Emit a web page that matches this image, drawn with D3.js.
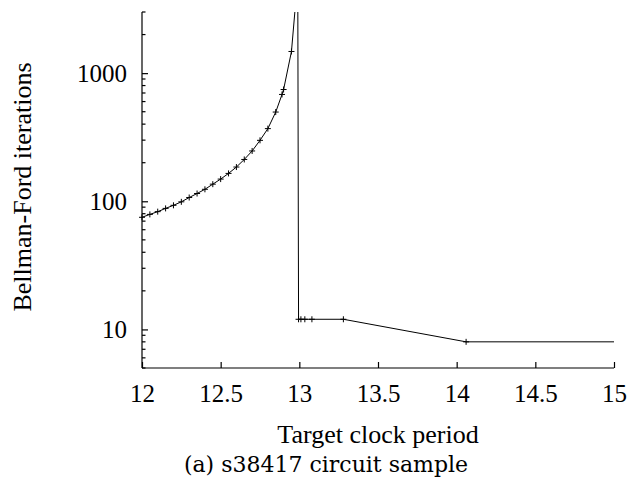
<!DOCTYPE html>
<html>
<head>
<meta charset="utf-8">
<script src="https://cdn.jsdelivr.net/npm/d3@7"></script>
<style>
  body { margin: 0; background: #fff; }
  text { font-family: "Liberation Serif", "Times New Roman", serif; fill: #000; }
</style>
</head>
<body>
<div class="chart"></div>
<script>
// Bellman-Ford iterations vs target clock period (s38417)
var periods = [12, 12.05, 12.1, 12.15, 12.2, 12.25, 12.3, 12.35, 12.4, 12.45,
               12.5, 12.55, 12.6, 12.65, 12.7, 12.75, 12.8, 12.85, 12.89, 12.9,
               12.95, 12.99, 12.995, 13.01, 13.035, 13.08, 13.28, 14.06, 15.5];
var iterations = [75, 79, 83, 88, 93, 99, 107, 115, 124, 136,
                  149, 165, 185, 212, 247, 299, 369, 497, 682, 745,
                  1476, 5500, 12, 12, 12, 12, 12, 8, 8];
var xTicks = [12, 12.5, 13, 13.5, 14, 14.5, 15];
var yMajor = [10, 100, 1000];
var yMinor = [5, 6, 7, 8, 9, 20, 30, 40, 50, 60, 70, 80, 90,
              200, 300, 400, 500, 600, 700, 800, 900, 2000, 3000];

var width = 633, height = 502;
var plotLeft = 142, plotRight = 614, plotTop = 12, plotBottom = 368;

var x = d3.scaleLinear().domain([12, 15]).range([plotLeft, plotRight]);
var y = d3.scaleLog().domain([5, 3000]).range([plotBottom, plotTop]);

function build_svg(c){
    var s = c.append("svg").attr("width", width).attr("height", height);
    s.append("rect").attr("width", width).attr("height", height).attr("fill", "#fff");
    s.append("clipPath").attr("id", "plot")
        .append("rect").attr("x", plotLeft - 6).attr("y", plotTop)
        .attr("width", plotRight - plotLeft + 6).attr("height", plotBottom - plotTop + 6);
    return s;
}

function build_axes(s){
    var xAxis = d3.axisBottom(x).tickValues(xTicks).tickSize(-6)
        .tickFormat(d3.format("~g"));
    var gx = s.append("g").attr("transform", "translate(0," + plotBottom + ")").call(xAxis);
    gx.select(".domain").attr("d", "M" + plotLeft + ",0H" + plotRight).attr("stroke-width", 1.2);
    gx.selectAll(".tick line").attr("stroke-width", 1.2);
    gx.selectAll(".tick text").attr("font-size", 25).attr("font-family", "Liberation Serif")
        .attr("y", 34).attr("dy", 0);

    var yAxis = d3.axisLeft(y).tickValues(yMajor).tickSize(-6).tickPadding(15)
        .tickFormat(d3.format("d"));
    var gy = s.append("g").attr("transform", "translate(" + plotLeft + ",0)").call(yAxis);
    gy.select(".domain").attr("d", "M0," + plotTop + "V" + plotBottom).attr("stroke-width", 1.2);
    gy.selectAll(".tick line").attr("stroke-width", 1.2);
    gy.selectAll(".tick text").attr("font-size", 25).attr("font-family", "Liberation Serif");

    gy.selectAll(".minor").data(yMinor).enter().append("line")
        .attr("class", "minor")
        .attr("x1", 0).attr("x2", 3.5)
        .attr("y1", function(d){ return y(d); })
        .attr("y2", function(d){ return y(d); })
        .attr("stroke", "#000").attr("stroke-width", 1.2);
}

function build_series(s){
    var pts = periods.map(function(p, i){ return [p, iterations[i]]; });
    var g = s.append("g").attr("clip-path", "url(#plot)");
    var line = d3.line()
        .x(function(d){ return x(d[0]); })
        .y(function(d){ return y(d[1]); });
    g.append("path").datum(pts)
        .attr("d", line)
        .attr("fill", "none").attr("stroke", "#000").attr("stroke-width", 1);
    g.selectAll(".pt").data(pts).enter().append("path")
        .attr("class", "pt")
        .attr("transform", function(d){ return "translate(" + x(d[0]) + "," + y(d[1]) + ")"; })
        .attr("d", "M-3,0H3M0,-3V3")
        .attr("stroke", "#000").attr("stroke-width", 1);
}

function build_labels(s){
    s.append("text")
        .attr("x", (plotLeft + plotRight) / 2).attr("y", 443)
        .attr("text-anchor", "middle").attr("font-size", 26)
        .text("Target clock period");
    s.append("text")
        .attr("transform", "translate(31,187) rotate(-90)")
        .attr("text-anchor", "middle").attr("font-size", 26)
        .text("Bellman-Ford iterations");
    s.append("text")
        .attr("x", 326).attr("y", 472)
        .attr("text-anchor", "middle").attr("font-size", 22)
        .style("font-family", "DejaVu Serif")
        .text("(a) s38417 circuit sample");
}

function main(){
    var container = d3.select(".chart");
    var svg = build_svg(container);
    build_axes(svg);
    build_series(svg);
    build_labels(svg);
}

main();
</script>
</body>
</html>
